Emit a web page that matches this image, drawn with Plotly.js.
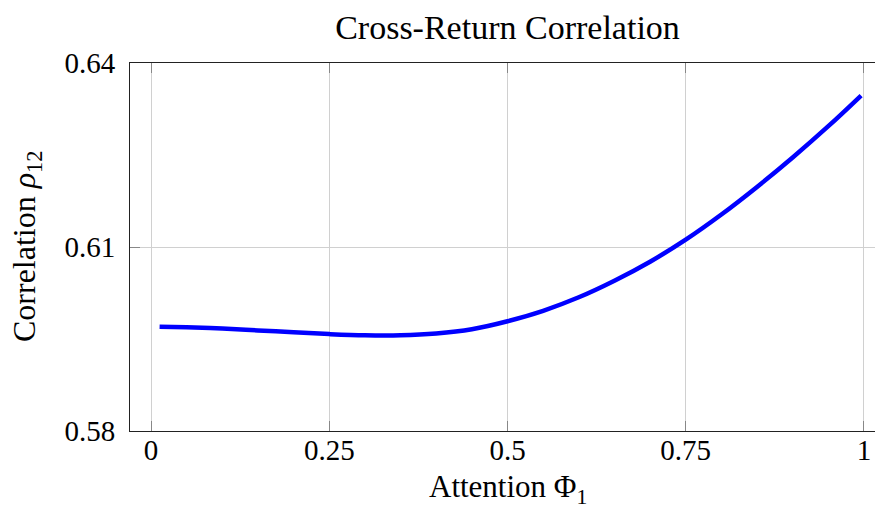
<!DOCTYPE html>
<html><head><meta charset="utf-8">
<script src="https://cdn.plot.ly/plotly-3.0.1.min.js"></script>
<style>html,body{margin:0;padding:0;overflow:hidden;background:#fff}</style>
</head><body><div id="chart" style="width:885px;height:510px"></div>
<script>
const attention = [0.012, 0.05, 0.1, 0.15, 0.2, 0.25, 0.3, 0.35, 0.4, 0.45, 0.5, 0.55, 0.6, 0.65, 0.7, 0.75, 0.8, 0.85, 0.9, 0.95, 0.996];
const correlation = [0.5970, 0.5969, 0.5967, 0.5964, 0.5961, 0.5958, 0.5956, 0.5956, 0.5959, 0.5966, 0.5979, 0.5996, 0.6018, 0.6045, 0.6076, 0.6112, 0.6153, 0.6198, 0.6246, 0.6297, 0.6347];
const xTickVals = [0, 0.25, 0.5, 0.75, 1];
const xTickText = ['0', '0.25', '0.5', '0.75', '1'];
const yTickVals = [0.58, 0.61, 0.64];
const yTickText = ['0.58', '0.61', '0.64'];
const titleText = 'Cross-Return Correlation';
const xTitleText = 'Attention Φ<sub>1</sub>';
const yTitleText = 'Correlation <i>ρ</i><sub>12</sub>';

const FONT = '"Liberation Serif", "Times New Roman", serif';

const trace = {
  x: attention, y: correlation, type: 'scatter', mode: 'lines',
  line: {color: '#0000ff', width: 4.5, shape: 'spline', smoothing: 1},
  hoverinfo: 'skip'
};

const axisCommon = {
  showgrid: true, gridcolor: '#d0d0d0', gridwidth: 1, zeroline: false,
  showline: true, linecolor: '#222', linewidth: 1, mirror: 'ticks',
  ticks: 'inside', ticklen: 10, tickcolor: '#888', tickwidth: 1,
  tickfont: {family: FONT, size: 29, color: '#000'}, automargin: false
};

const layout = {
  width: 885, height: 510,
  margin: {l: 130, r: 0, t: 63, b: 79, pad: 0},
  paper_bgcolor: '#fff', plot_bgcolor: '#fff',
  font: {family: FONT, size: 29, color: '#000'},
  showlegend: false,
  title: {text: titleText, font: {family: FONT, size: 34, color: '#000'},
          x: 0.5, xref: 'paper', xanchor: 'center', y: 1 - 27/510, yref: 'container', yanchor: 'middle'},
  xaxis: Object.assign({}, axisCommon, {
    range: [-0.0295, 1.0295], tickvals: xTickVals, ticktext: xTickText, ticklabelstandoff: -7
  }),
  yaxis: Object.assign({}, axisCommon, {
    range: [0.58, 0.64], tickvals: yTickVals, ticktext: yTickText, ticklabelstandoff: 8
  }),
  annotations: [
    {text: xTitleText, xref: 'paper', yref: 'paper', x: 0.5, y: (431 - 489) / 368,
     xanchor: 'center', yanchor: 'middle', showarrow: false,
     font: {family: FONT, size: 31, color: '#000'}},
    {text: yTitleText, xref: 'paper', yref: 'paper', x: (26 - 130) / 755, y: 0.5,
     xanchor: 'center', yanchor: 'middle', textangle: -90, showarrow: false,
     font: {family: FONT, size: 32, color: '#000'}}
  ]
};

Plotly.newPlot('chart', [trace], layout, {displayModeBar: false, staticPlot: true});
</script></body></html>
